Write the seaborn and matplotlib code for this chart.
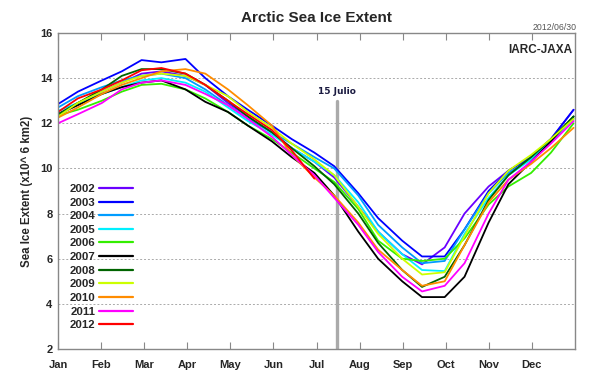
import matplotlib
matplotlib.use("Agg")
import matplotlib.pyplot as plt
import seaborn as sns
import pandas as pd
import numpy as np
from matplotlib.lines import Line2D

# ---- data (day of year, extent in 10^6 km2) ----
days = [1, 15, 32, 46, 60, 74, 91, 105, 121, 135, 152, 166, 182, 196, 213,
        227, 244, 258, 274, 288, 305, 319, 335, 349, 365]
v2002 = [12.4, 12.9, 13.4, 13.8, 14.2, 14.3, 14.1, 13.7, 12.9, 12.3, 11.6, 10.9, 10.3, 9.6, 8.3, 7.2, 6.2, 5.75, 6.5, 8.0, 9.2, 9.9, 10.5, 11.3, 12.6]
v2003 = [12.85, 13.4, 13.9, 14.3, 14.8, 14.7, 14.85, 14.0, 13.2, 12.6, 11.9, 11.3, 10.7, 10.1, 8.9, 7.8, 6.8, 6.1, 6.1, 7.3, 9.0, 9.9, 10.5, 11.3, 12.6]
v2004 = [12.7, 13.2, 13.6, 13.9, 14.1, 14.2, 14.0, 13.5, 12.8, 12.2, 11.6, 11.1, 10.5, 10.0, 8.8, 7.5, 6.5, 5.8, 5.9, 7.3, 8.9, 9.8, 10.4, 11.2, 12.3]
v2005 = [12.55, 12.9, 13.3, 13.6, 13.9, 14.0, 13.8, 13.4, 12.7, 12.1, 11.5, 10.9, 10.3, 9.7, 8.5, 7.2, 6.2, 5.5, 5.45, 7.1, 8.7, 9.7, 10.4, 11.2, 12.2]
v2006 = [12.35, 12.6, 13.0, 13.4, 13.7, 13.75, 13.5, 13.1, 12.5, 11.9, 11.3, 10.7, 10.0, 9.4, 8.2, 6.8, 6.0, 5.9, 6.0, 6.9, 8.4, 9.2, 9.8, 10.7, 12.0]
v2007 = [12.4, 12.8, 13.3, 13.6, 13.8, 13.9, 13.5, 12.95, 12.5, 11.9, 11.2, 10.5, 9.8, 8.8, 7.2, 6.0, 5.0, 4.3, 4.3, 5.2, 7.6, 9.3, 10.3, 11.2, 12.3]
v2008 = [12.4, 12.9, 13.5, 14.1, 14.4, 14.4, 14.2, 13.7, 13.0, 12.3, 11.6, 10.9, 10.1, 9.3, 8.0, 6.7, 5.5, 4.75, 5.2, 6.6, 8.6, 9.7, 10.5, 11.3, 12.3]
v2009 = [12.3, 12.9, 13.4, 13.8, 14.1, 14.2, 14.1, 13.7, 13.2, 12.5, 11.8, 11.1, 10.4, 9.7, 8.3, 7.1, 6.0, 5.3, 5.4, 7.0, 8.9, 9.9, 10.6, 11.3, 12.2]
v2010 = [12.25, 12.7, 13.3, 13.7, 14.0, 14.3, 14.4, 14.2, 13.5, 12.8, 11.9, 10.6, 9.6, 8.8, 7.6, 6.4, 5.5, 4.8, 5.0, 6.6, 8.5, 9.5, 10.2, 10.9, 11.8]
v2011 = [12.0, 12.4, 12.9, 13.5, 13.8, 13.9, 13.7, 13.3, 12.8, 12.2, 11.4, 10.6, 9.7, 8.7, 7.5, 6.3, 5.2, 4.55, 4.8, 5.8, 8.0, 9.5, 10.3, 11.1, 12.1]
v2012 = [12.5, 13.1, 13.5, 13.9, 14.35, 14.45, 14.2, 13.7, 13.0, 12.4, 11.7, 10.8, 9.55]

years = ["2002", "2003", "2004", "2005", "2006", "2007", "2008", "2009", "2010", "2011", "2012"]
series = [v2002, v2003, v2004, v2005, v2006, v2007, v2008, v2009, v2010, v2011, v2012]
colors = ["#6a00ff", "#0000ff", "#009cff", "#00f0ff", "#33ee00", "#000000",
          "#006400", "#ccff00", "#ff8c00", "#ff00ff", "#ff0000"]
months = ["Jan", "Feb", "Mar", "Apr", "May", "Jun", "Jul", "Aug", "Sep", "Oct", "Nov", "Dec"]
yticks = [2, 4, 6, 8, 10, 12, 14, 16]
marker_day = 198
marker_label = "15 Julio"

rows = []
for y, vals in zip(years, series):
    for d, v in zip(days, vals):
        rows.append({"day": d, "extent": v, "year": y})
df = pd.DataFrame(rows)

sns.set_style("white")
plt.rcParams["font.family"] = ["Liberation Sans", "DejaVu Sans"]

fig = plt.figure(figsize=(6, 3.75), dpi=100)
ax = fig.add_axes([58/600, 1-349/375, 517/600, 316/375])

sns.lineplot(data=df, x="day", y="extent", hue="year", hue_order=years,
             palette=dict(zip(years, colors)), linewidth=1.3, ax=ax,
             sort=False, estimator=None, legend=False)

ax.set_xlim(1, 366)
ax.set_ylim(2, 16)
ticks = [1 + i * 365 / 12 for i in range(12)]
ax.set_xticks(ticks)
ax.set_xticklabels(months, fontweight="bold", fontsize=8)
ax.set_yticks(yticks)
ax.set_yticklabels([str(t) for t in yticks], fontweight="bold", fontsize=8)
ax.tick_params(axis="x", direction="in", length=5, color="#888888",
               top=True, bottom=True, labeltop=False, pad=8)
ax.tick_params(axis="y", length=0, pad=4)
for s in ax.spines.values():
    s.set_color("#888888")
    s.set_linewidth(1.0)
ax.yaxis.grid(True, linestyle=(0, (2, 2)), color="#aaaaaa", linewidth=0.7)
ax.xaxis.grid(False)
ax.set_xlabel("")
ax.set_ylabel("Sea Ice Extent (x10^ 6 km2)", fontweight="bold", fontsize=8.3, labelpad=5)

# July 15 marker
ax.plot([marker_day, marker_day], [2, 13.0], color="#aaaaaa", linewidth=2.4, zorder=1)
ax.text(marker_day, 13.2, marker_label, ha="center", va="bottom", fontsize=6.5,
        fontweight="bold", color="#1a1a40", family=["DejaVu Sans"])

# legend
handles = [Line2D([0], [0], color=c, linewidth=1.6) for c in colors]
leg = ax.legend(handles, years, loc="upper left", bbox_to_anchor=(0.003, 0.555),
                frameon=False, markerfirst=False, handlelength=3.0,
                handletextpad=0.3, labelspacing=0.32,
                prop={"weight": "bold", "size": 8.2, "family": "Liberation Sans"})

fig.text(316/600, 1-18/375, "Arctic Sea Ice Extent", ha="center", va="center",
         fontsize=11, fontweight="bold")
fig.text(577/600, 1-27/375, "2012/06/30", ha="right", va="center",
         fontsize=6.3, color="#555555")
ax.text(0.995, 0.965, "IARC-JAXA", transform=ax.transAxes, ha="right", va="top",
        fontsize=8.5, fontweight="bold")

fig.savefig("out.png", dpi=100)
